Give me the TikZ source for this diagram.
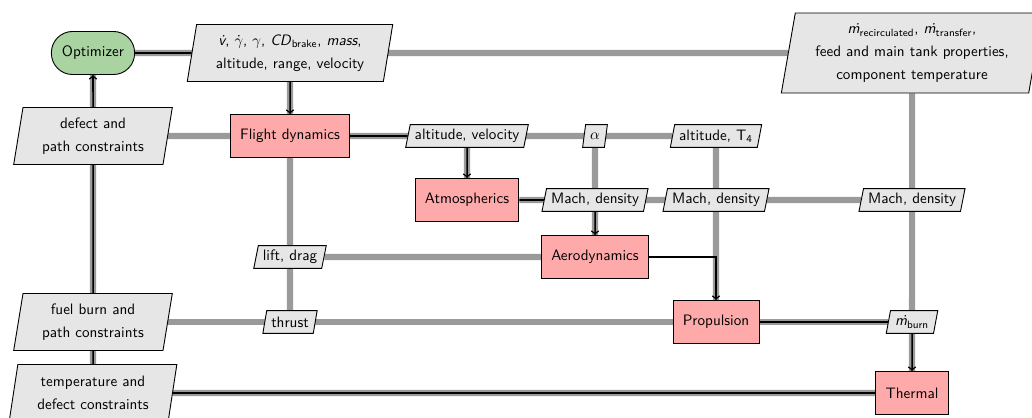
\documentclass[tikz,border=0pt]{standalone}
\usetikzlibrary{shapes.geometric,backgrounds}
\definecolor{compred}{HTML}{FFAAAA}
\definecolor{optgreen}{HTML}{A9D3A1}
\definecolor{datagray}{HTML}{E6E6E6}
\definecolor{linegray}{HTML}{9A9A9A}
\tikzset{
  comp/.style={draw,fill=compred,line width=0.6pt,minimum height=28.5pt,inner xsep=6.5pt},
  optim/.style={draw,fill=optgreen,line width=0.6pt,rounded corners=14pt,minimum height=28.5pt,inner xsep=7pt},
  data/.style={draw,fill=datagray,line width=0.6pt,trapezium,trapezium left angle=78,trapezium right angle=102,
    trapezium stretches body,inner xsep=3pt,inner ysep=2.5pt,minimum height=15pt,align=center},
  dataline/.style={draw=linegray,line width=4pt},
  procline/.style={draw=black,line width=1pt},
}
\begin{document}
\begin{tikzpicture}[x=0.662pt,y=-0.662pt,font=\sffamily]
    \useasboundingbox (0,0) rectangle (1032,418);

    \node[optim] (opt) at (93,53) {Optimizer};
    \node[data,minimum width=136pt,minimum height=37.7pt] (dvars) at (290,53)
        {\textit{\.v}, $\dot{\gamma}$, $\gamma$, \textit{CD}\textsubscript{brake}, \textit{mass},\\[3pt] altitude, range, velocity};
    \node[data,minimum width=173pt,minimum height=53pt] (tankin) at (912,53)
        {\textit{\.m}\textsubscript{recirculated}, \textit{\.m}\textsubscript{transfer},\\[3pt] feed and main tank properties,\\[3pt] component temperature};

    \node[data,minimum width=105pt,minimum height=37.7pt] (defect) at (93,136) {defect and\\[3pt] path constraints};
    \node[comp] (flight) at (290,136) {Flight dynamics};
    \node[data] (altvel) at (467,136) {altitude, velocity};
    \node[data] (alpha) at (595,136) {$\alpha$};
    \node[data] (altT4) at (716,136) {altitude, T\textsubscript{4}};

    \node[comp] (atmos) at (467,200) {Atmospherics};
    \node[data] (mach3) at (595,200) {Mach, density};
    \node[data] (mach4) at (716,200) {Mach, density};
    \node[data] (mach5) at (912,200) {Mach, density};

    \node[data] (lift) at (290,257) {lift, drag};
    \node[comp] (aero) at (595,257) {Aerodynamics};

    \node[data,minimum width=105pt,minimum height=37.7pt] (fuel) at (93,322) {fuel burn and\\[3pt] path constraints};
    \node[data] (thrust) at (290,322) {thrust};
    \node[comp] (prop) at (716,322) {Propulsion};
    \node[data] (mburn) at (912,322) {\textit{\.m}\textsubscript{burn}};

    \node[data,minimum width=111pt,minimum height=37.7pt] (temp) at (93,393) {temperature and\\[3pt] defect constraints};
    \node[comp] (thermal) at (912,393) {Thermal};

    \begin{scope}[on background layer]
    \draw[dataline] (opt) -- (tankin);
    \draw[dataline] (defect) -- (altT4);
    \draw[dataline] (atmos) -- (mach5);
    \draw[dataline] (lift) -- (aero);
    \draw[dataline] (fuel) -- (mburn);
    \draw[dataline] (temp) -- (thermal);

    \draw[dataline] (opt) -- (temp);
    \draw[dataline] (dvars) -- (thrust);
    \draw[dataline] (altvel) -- (atmos);
    \draw[dataline] (alpha) -- (aero);
    \draw[dataline] (altT4) -- (prop);
    \draw[dataline] (tankin) -- (thermal);

    \draw[procline] (opt) -- (dvars);
    \draw[procline,->] (dvars) -- (flight);
    \draw[procline] (flight) -- (altvel);
    \draw[procline,->] (altvel) -- (atmos);
    \draw[procline] (atmos) -- (mach3);
    \draw[procline,->] (mach3) -- (aero);
    \draw[procline,->] (aero) -| (prop);
    \draw[procline] (prop) -- (mburn);
    \draw[procline,->] (mburn) -- (thermal);
    \draw[procline] (thermal) -- (temp);
    \draw[procline] (temp) -- (fuel);
    \draw[procline] (fuel) -- (defect);
    \draw[procline,->] (defect) -- (opt);
    \end{scope}
\end{tikzpicture}
\end{document}
